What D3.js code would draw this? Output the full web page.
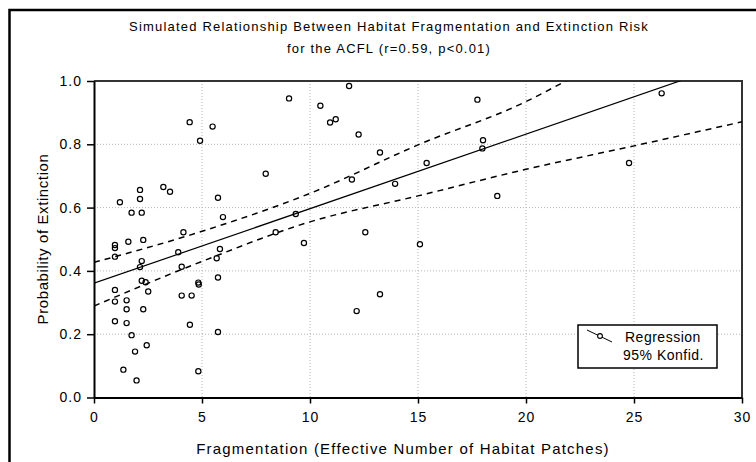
<!DOCTYPE html>
<html>
<head>
<meta charset="utf-8">
<script src="https://cdn.jsdelivr.net/npm/d3@7"></script>
<style>
    body { margin: 0; background: #fff; }
    svg { display: block; }
    text { font-family: "Liberation Sans", Arial, sans-serif; fill: #000; }
</style>
</head>
<body>
<svg width="756" height="462"></svg>
<script>
(function (d3) {
    'use strict';

    // chart data
    const fragmentation = [
        1.20, 1.74, 2.21, 2.13, 2.13, 3.21, 3.52, 4.43, 4.91, 5.49,
        5.74, 5.97, 4.14, 0.97, 0.97, 1.59, 2.28, 0.97, 2.21, 2.13,
        3.90, 4.06, 2.21, 2.39, 2.51, 0.97, 0.97, 1.51, 1.51, 2.28,
        0.97, 1.51, 1.74, 2.44, 1.90, 1.36, 1.97, 4.06, 4.52, 4.44,
        4.83, 4.85, 4.83, 5.83, 5.68, 5.74, 5.74, 9.03, 7.95, 10.48,
        11.81, 10.93, 11.19, 12.25, 13.24, 17.75, 18.01, 17.98, 15.40, 11.94,
        13.94, 18.67, 9.34, 8.41, 12.56, 9.72, 15.09, 13.24, 12.16, 26.28,
        24.77
    ];
    const extinction = [
        0.617, 0.584, 0.584, 0.656, 0.627, 0.665, 0.650, 0.870, 0.811, 0.856,
        0.631, 0.570, 0.522, 0.482, 0.472, 0.492, 0.498, 0.445, 0.431, 0.412,
        0.459, 0.413, 0.369, 0.364, 0.335, 0.340, 0.303, 0.307, 0.279, 0.279,
        0.241, 0.235, 0.197, 0.165, 0.145, 0.088, 0.054, 0.322, 0.322, 0.230,
        0.363, 0.357, 0.083, 0.469, 0.440, 0.379, 0.207, 0.945, 0.707, 0.922,
        0.984, 0.869, 0.879, 0.831, 0.774, 0.941, 0.813, 0.787, 0.741, 0.689,
        0.675, 0.637, 0.580, 0.522, 0.522, 0.488, 0.484, 0.326, 0.273, 0.961,
        0.741
    ];

    // regression line and 95% band as drawn in the picture
    const regX = [0, 30];
    const regY = [0.361, 1.068];
    const upperX = [0, 5, 10, 15, 20, 22];
    const upperY = [0.427, 0.525, 0.645, 0.798, 0.935, 1.006];
    const lowerX = [0, 5, 10, 15, 20, 25, 30];
    const lowerY = [0.289, 0.430, 0.555, 0.637, 0.721, 0.795, 0.871];

    const xTicks = [0, 5, 10, 15, 20, 25, 30];
    const yTicks = [0, 0.2, 0.4, 0.6, 0.8, 1.0];

    const titleLines = [
        'Simulated Relationship Between Habitat Fragmentation and Extinction Risk',
        'for the ACFL (r=0.59, p<0.01)'
    ];
    const legendLabels = ['Regression', '95% Konfid.'];

    const plot = { left: 94, right: 742, top: 81, bottom: 397.5 };

    const svg = d3.select('svg');

    // outer frame
    svg.append('rect')
        .attr('x', 9.5).attr('y', 10)
        .attr('width', 800).attr('height', 800)
        .attr('fill', 'none')
        .attr('stroke', '#000')
        .attr('stroke-width', 2.5);

    const x = d3.scaleLinear().domain([0, 30]).range([plot.left, plot.right]);
    const y = d3.scaleLinear().domain([0, 1]).range([plot.bottom, plot.top]);

    // title
    svg.selectAll('text.title')
        .data(titleLines)
        .enter().append('text')
        .attr('class', 'title')
        .attr('x', 389)
        .attr('y', (d, i) => 31 + i * 22)
        .attr('text-anchor', 'middle')
        .style('font-size', '13px')
        .style('letter-spacing', '1.2px')
        .text(d => d);

    // dotted grid
    const grid = svg.append('g').attr('class', 'grid')
        .attr('stroke', '#b4b4b4')
        .attr('stroke-dasharray', '1,2');

    grid.selectAll('line.gx')
        .data(xTicks.slice(1, -1))
        .enter().append('line')
        .attr('x1', x).attr('x2', x)
        .attr('y1', plot.top).attr('y2', plot.bottom);

    grid.selectAll('line.gy')
        .data(yTicks.slice(1, -1))
        .enter().append('line')
        .attr('x1', plot.left).attr('x2', plot.right)
        .attr('y1', y).attr('y2', y);

    // top and right frame of the plot
    svg.append('path')
        .attr('d', `M${plot.left},${plot.top}H${plot.right}V${plot.bottom}`)
        .attr('fill', 'none')
        .attr('stroke', '#333')
        .attr('stroke-width', 2);

    // axes
    const xAxis = svg.append('g')
        .attr('transform', `translate(0,${plot.bottom})`)
        .call(d3.axisBottom(x).tickValues(xTicks).tickFormat(d3.format('d')).tickSize(6).tickSizeOuter(0));

    const yAxis = svg.append('g')
        .attr('transform', `translate(${plot.left},0)`)
        .call(d3.axisLeft(y).tickValues(yTicks).tickFormat(d3.format('.1f')).tickSize(7).tickSizeOuter(0));

    [xAxis, yAxis].forEach(a => {
        a.select('.domain').attr('stroke', '#000').attr('stroke-width', 2);
        a.selectAll('.tick line').attr('stroke', '#000').attr('stroke-width', 1.5);
        a.selectAll('.tick text')
            .style('font-size', '14px')
            .style('letter-spacing', '1px')
            .style('font-family', '"Liberation Sans", Arial, sans-serif')
            .attr('fill', '#000');
    });
    xAxis.selectAll('.tick text').attr('dy', '1.1em');
    yAxis.selectAll('.tick text').attr('x', -12);

    // axis titles
    svg.append('text')
        .attr('x', 403)
        .attr('y', 454)
        .attr('text-anchor', 'middle')
        .style('font-size', '15px')
        .style('letter-spacing', '1.2px')
        .text('Fragmentation (Effective Number of Habitat Patches)');

    svg.append('text')
        .attr('transform', 'translate(48,239) rotate(-90)')
        .attr('text-anchor', 'middle')
        .style('font-size', '15px')
        .style('letter-spacing', '0.6px')
        .text('Probability of Extinction');

    // clip lines to the plot area
    svg.append('clipPath')
        .attr('id', 'plot-clip')
        .append('rect')
        .attr('x', plot.left).attr('y', plot.top)
        .attr('width', plot.right - plot.left)
        .attr('height', plot.bottom - plot.top);

    const lines = svg.append('g').attr('clip-path', 'url(#plot-clip)');

    const straight = d3.line().x(d => x(d[0])).y(d => y(d[1]));
    const smooth = d3.line().x(d => x(d[0])).y(d => y(d[1])).curve(d3.curveMonotoneX);

    lines.append('path')
        .attr('d', straight(d3.zip(regX, regY)))
        .attr('fill', 'none')
        .attr('stroke', '#000')
        .attr('stroke-width', 1.2);

    [[upperX, upperY], [lowerX, lowerY]].forEach(([bx, by]) => {
        lines.append('path')
            .attr('d', smooth(d3.zip(bx, by)))
            .attr('fill', 'none')
            .attr('stroke', '#000')
            .attr('stroke-width', 1.5)
            .attr('stroke-dasharray', '6,5');
    });

    // points
    svg.append('g')
        .selectAll('circle')
        .data(d3.zip(fragmentation, extinction))
        .enter().append('circle')
        .attr('cx', d => x(d[0]))
        .attr('cy', d => y(d[1]))
        .attr('r', 2.6)
        .attr('fill', 'none')
        .attr('stroke', '#000')
        .attr('stroke-width', 1.2);

    // legend
    const legend = svg.append('g').attr('transform', 'translate(578,325)');

    legend.append('rect')
        .attr('width', 139).attr('height', 43)
        .attr('fill', '#fff')
        .attr('stroke', '#000')
        .attr('stroke-width', 1.5);

    legend.append('line')
        .attr('x1', 9).attr('y1', 5)
        .attr('x2', 34).attr('y2', 17)
        .attr('stroke', '#000');

    legend.append('circle')
        .attr('cx', 22).attr('cy', 11)
        .attr('r', 2.4)
        .attr('fill', '#fff')
        .attr('stroke', '#000')
        .attr('stroke-width', 1.1);

    legend.selectAll('text')
        .data(legendLabels)
        .enter().append('text')
        .attr('x', (d, i) => 47 - i * 2)
        .attr('y', (d, i) => 17 + i * 18)
        .style('font-size', '14px')
        .style('letter-spacing', '0.5px')
        .text(d => d);

}(d3));
</script>
</body>
</html>
